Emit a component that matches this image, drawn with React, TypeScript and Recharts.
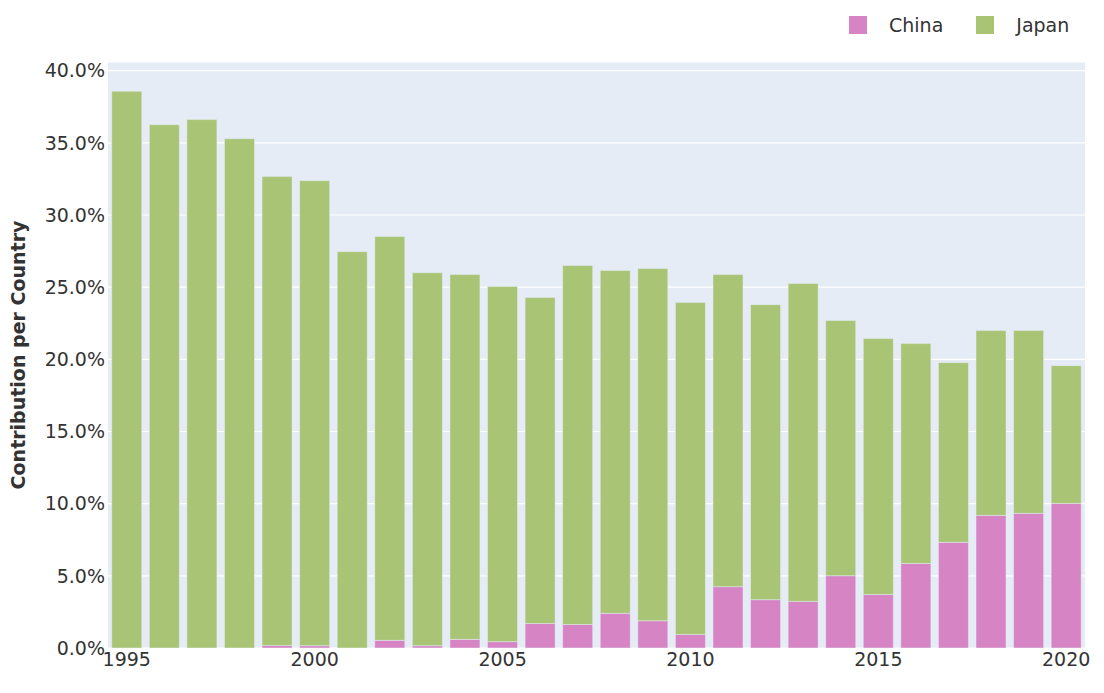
import { BarChart, Bar, XAxis, YAxis, CartesianGrid } from "recharts";

const years = [
  1995, 1996, 1997, 1998, 1999, 2000, 2001, 2002, 2003, 2004, 2005, 2006, 2007,
  2008, 2009, 2010, 2011, 2012, 2013, 2014, 2015, 2016, 2017, 2018, 2019, 2020,
];
const china = [
  0, 0, 0, 0, 0.18, 0.16, 0, 0.53, 0.16, 0.6, 0.44, 1.7, 1.63, 2.4, 1.89, 0.94,
  4.25, 3.35, 3.23, 5.01, 3.71, 5.86, 7.32, 9.19, 9.33, 10.02,
];
const japan = [
  38.57, 36.26, 36.61, 35.29, 32.48, 32.22, 27.46, 27.98, 25.84, 25.27, 24.6,
  22.58, 24.87, 23.75, 24.4, 22.99, 21.62, 20.44, 22.02, 17.68, 17.73, 15.23,
  12.45, 12.8, 12.66, 9.54,
];
const yTicks = [0, 5, 10, 15, 20, 25, 30, 35, 40];

const FONT = "'DejaVu Sans', sans-serif";
const CHINA_COLOR = "#d684c3";
const JAPAN_COLOR = "#a9c474";

const series = [
  { key: "china", name: "China", color: CHINA_COLOR },
  { key: "japan", name: "Japan", color: JAPAN_COLOR },
];

const data = years.map((y, i) => ({ year: y, china: china[i], japan: japan[i] }));

function LegendBox() {
  return (
    <div
      style={{
        position: "absolute",
        top: 14,
        left: 849,
        display: "flex",
        alignItems: "center",
        fontFamily: FONT,
        fontSize: 19,
        color: "#333",
      }}
    >
      {series.map((s) => (
        <div key={s.key} style={{ display: "flex", alignItems: "center", marginRight: 33 }}>
          <span style={{ width: 18, height: 18, background: s.color, display: "inline-block", marginRight: 22 }} />
          <span>{s.name}</span>
        </div>
      ))}
    </div>
  );
}

export default function App() {
  return (
    <div style={{ position: "absolute", top: 0, left: 0, width: 1104, height: 693, background: "#fff" }}>
      <BarChart
        width={1104}
        height={693}
        data={data}
        margin={{ top: 62, right: 19, bottom: 0, left: 0 }}
        barCategoryGap="10%"
      >
        <CartesianGrid vertical={false} stroke="#ffffff" strokeWidth={1.2} fill="#e5ecf6" />
        <XAxis
          dataKey="year"
          interval={4}
          height={45}
          tickLine={false}
          axisLine={false}
          tickSize={0}
          tickMargin={5}
          tick={{ fontSize: 19, fill: "#333", fontFamily: FONT }}
        />
        <YAxis
          width={108}
          domain={[0, 40.6]}
          allowDataOverflow
          ticks={yTicks}
          tickFormatter={(v) => `${v.toFixed(1)}%`}
          tickLine={false}
          axisLine={false}
          tickSize={0}
          tickMargin={3}
          tick={{ fontSize: 19, fill: "#333", fontFamily: FONT }}
          label={{
            value: "Contribution per Country",
            angle: -90,
            position: "insideLeft",
            offset: 0,
            dx: 18,
            style: { fontSize: 19, fontWeight: 700, fill: "#333", fontFamily: FONT, textAnchor: "middle" },
          }}
        />
        {series.map((s) => (
          <Bar
            key={s.key}
            dataKey={s.key}
            name={s.name}
            stackId="a"
            fill={s.color}
            stroke="#e5ecf6"
            strokeWidth={0.5}
            isAnimationActive={false}
          />
        ))}
      </BarChart>
      <LegendBox />
    </div>
  );
}
